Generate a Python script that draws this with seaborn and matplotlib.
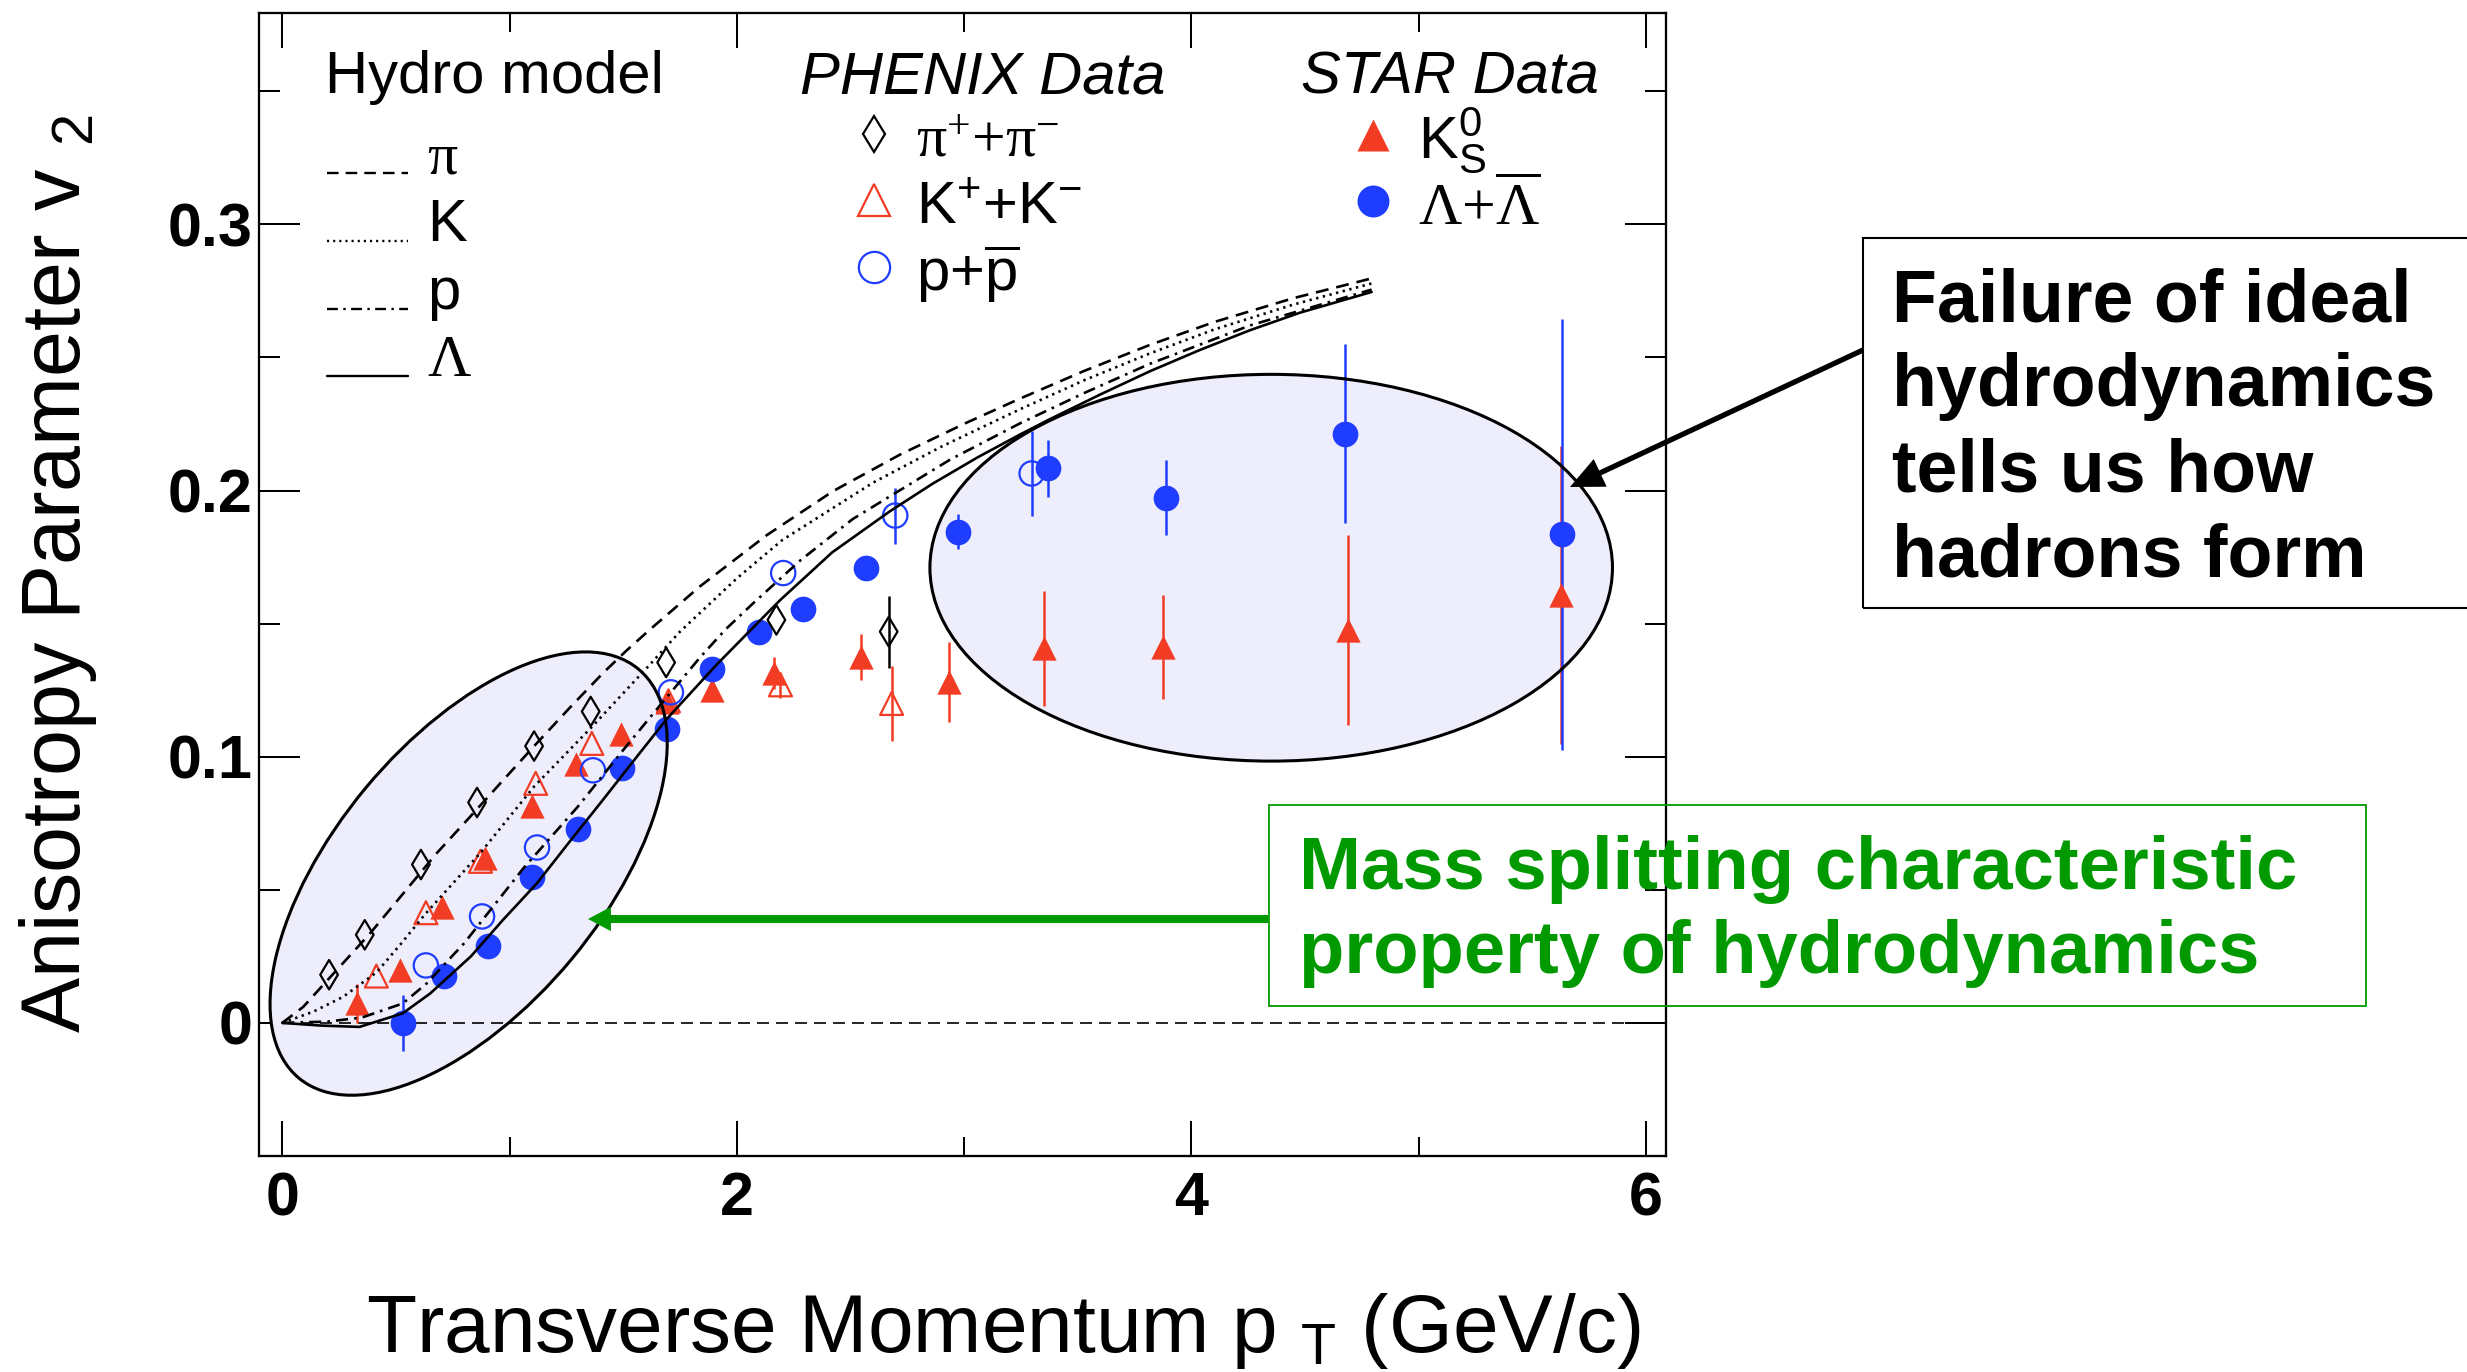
import numpy as np
import pandas as pd
import matplotlib
matplotlib.use("Agg")
import matplotlib.pyplot as plt
import seaborn as sns
from matplotlib.patches import Ellipse, Rectangle
from matplotlib.lines import Line2D
from matplotlib.legend_handler import HandlerLine2D
from matplotlib.transforms import ScaledTranslation

# ---------------- hydro model curves: v2(pT) ----------------
hydro_pi_pt = [0, 0.092, 0.239, 0.386, 0.532, 0.679, 0.826, 0.972, 1.119, 1.266, 1.412, 1.516,
               1.618, 1.838, 2.131, 2.424, 2.718, 3.011, 3.245, 3.53, 3.817, 4.1, 4.45, 4.793]
hydro_pi_v2 = [0, 0.006, 0.0198, 0.0336, 0.0486, 0.0637, 0.0774, 0.0912, 0.105, 0.1185, 0.1315,
               0.1400, 0.1478, 0.1640, 0.1832, 0.1998, 0.2135, 0.2255, 0.2345, 0.2450, 0.2547,
               0.2633, 0.2723, 0.2797]

hydro_k_pt = [0, 0.136, 0.268, 0.415, 0.52, 0.63, 0.87, 1.11, 1.36, 1.6, 1.75, 2.0, 2.2, 2.6,
              2.9, 3.245, 3.53, 3.817, 4.1, 4.45, 4.793]
hydro_k_v2 = [0, 0.0042, 0.0098, 0.019, 0.0295, 0.041, 0.0637, 0.089, 0.111, 0.133, 0.147, 0.167,
              0.1814, 0.2030, 0.2165, 0.2305, 0.2415, 0.2515, 0.2605, 0.2699, 0.2778]

hydro_p_pt = [0, 0.2, 0.35, 0.53, 0.635, 0.8, 1.06, 1.3, 1.5, 1.63, 1.84, 1.95, 2.07, 2.28, 2.51,
              2.94, 3.245, 3.53, 3.817, 4.257, 4.793]
hydro_p_v2 = [0, 0.0005, 0.002, 0.0073, 0.0148, 0.0299, 0.058, 0.0812, 0.1025, 0.1160, 0.1375,
              0.1478, 0.1575, 0.1738, 0.1893, 0.2117, 0.2252, 0.2367, 0.2476, 0.2620, 0.2755]

hydro_lam_pt = [0, 0.17, 0.34, 0.53, 0.65, 0.83, 0.97, 1.12, 1.27, 1.41, 1.56, 1.69, 1.91, 2.19,
                2.42, 2.67, 2.86, 3.06, 3.245, 3.377, 3.597, 3.817, 4.037, 4.257, 4.477, 4.793]
hydro_lam_v2 = [0, -0.001, -0.0015, 0.0036, 0.011, 0.025, 0.0386, 0.0524, 0.0687, 0.0837, 0.1,
                0.114, 0.1345, 0.1588, 0.1768, 0.1920, 0.2025, 0.2125, 0.2210, 0.2268, 0.2360,
                0.2448, 0.2528, 0.2602, 0.2668, 0.2746]

# ---------------- PHENIX data ----------------
phenix_pi_pt = [0.206, 0.363, 0.610, 0.857, 1.108, 1.357, 1.689, 2.174, 2.668]
phenix_pi_v2 = [0.0181, 0.0331, 0.0595, 0.0828, 0.104, 0.117, 0.1354, 0.1514, 0.147]
phenix_pi_err = [0, 0, 0, 0, 0, 0, 0, 0, 0.0135]

phenix_k_pt = [0.414, 0.632, 0.872, 1.115, 1.362, 1.699, 2.192, 2.681]
phenix_k_v2 = [0.0176, 0.0414, 0.0607, 0.090, 0.105, 0.121, 0.127, 0.120]
phenix_k_err = [0, 0, 0, 0, 0, 0, 0.005, 0.014]

phenix_p_pt = [0.632, 0.879, 1.121, 1.367, 1.710, 2.204, 2.697, 3.297]
phenix_p_v2 = [0.0216, 0.040, 0.0659, 0.0949, 0.1242, 0.169, 0.1906, 0.2064]
phenix_p_err = [0, 0, 0, 0, 0, 0, 0.0105, 0.016]

# ---------------- STAR data ----------------
star_k0s_pt = [0.329, 0.516, 0.704, 0.890, 1.097, 1.294, 1.492, 1.694, 1.889, 2.165, 2.547,
               2.933, 3.351, 3.874, 4.689, 5.624]
star_k0s_v2 = [0.0073, 0.0198, 0.0435, 0.0621, 0.0814, 0.0974, 0.1087, 0.1204, 0.125, 0.1316,
               0.1376, 0.1281, 0.1407, 0.1413, 0.1476, 0.1607]
star_k0s_err = [0.0075, 0, 0, 0, 0, 0, 0, 0, 0, 0.006, 0.0086, 0.015, 0.0216, 0.0195, 0.0358, 0.056]

star_lam_pt = [0.531, 0.711, 0.906, 1.099, 1.299, 1.496, 1.694, 1.891, 2.096, 2.289, 2.569,
               2.974, 3.369, 3.889, 4.677, 5.631]
star_lam_v2 = [0.0, 0.0176, 0.029, 0.0548, 0.0728, 0.0957, 0.1104, 0.1328, 0.147, 0.1556, 0.1708,
               0.1846, 0.2083, 0.1973, 0.2214, 0.1836]
star_lam_err = [0.0104, 0, 0, 0, 0, 0, 0, 0, 0, 0, 0, 0.0067, 0.0107, 0.014, 0.0337, 0.081]

# ---------------- tick labels ----------------
x_major = [0, 2, 4, 6]
x_major_labels = ["0", "2", "4", "6"]
x_minor = [1, 3, 5]
y_major = [0, 0.1, 0.2, 0.3]
y_major_labels = ["0", "0.1", "0.2", "0.3"]
y_minor = [-0.05, 0.05, 0.15, 0.25, 0.35]

hydro_labels = ["π", "K", "p", "Λ"]
phenix_labels = [r"π$^{+}$+π$^{-}$", r"K$^{+}$+K$^{-}$", r"p+$\overline{\mathregular{p}}$"]
star_labels = [r"K$^{0}_{S}$", r"Λ+$\overline{\Lambda}$"]

# ---------------- style ----------------
BLUE = "#1f3dff"
RED = "#f23c24"
GREEN = "#009a00"
LAVENDER = "#ededfc"

sns.set_theme(style="ticks", rc={
    "axes.edgecolor": "black", "xtick.color": "black", "ytick.color": "black",
    "text.color": "black", "axes.labelcolor": "black", "axes.linewidth": 1.65,
})
plt.rcParams["font.family"] = ["Liberation Sans", "DejaVu Sans"]
plt.rcParams["mathtext.default"] = "regular"

W, H, DPI = 2467, 1372, 100
fig = plt.figure(figsize=(W / DPI, H / DPI), dpi=DPI, facecolor="white")


def fx(px):
    return px / W


def fy(py):
    return 1 - py / H


AX_L, AX_R, AX_T, AX_B = 259.3, 1666.0, 13.0, 1156.0
ax = fig.add_axes([fx(AX_L), fy(AX_B), (AX_R - AX_L) / W, (AX_B - AX_T) / H])
ax.set_facecolor("white")
ax.set_xlim(-0.101, 6.088)
ax.set_ylim(-0.050, 0.3794)

# ---------------- highlighted regions ----------------
left_center = (0.820, 0.0561)
left_tr = fig.dpi_scale_trans + ScaledTranslation(left_center[0], left_center[1], ax.transData)
right_center = (4.351, 0.171)
for z, kw in ((1, dict(facecolor=LAVENDER, edgecolor="none")),
              (5, dict(facecolor="none", edgecolor="black", linewidth=2.2))):
    ax.add_patch(Ellipse((0, 0), 531.6 / DPI, 267.8 / DPI, angle=50.3,
                         transform=left_tr, zorder=z, **kw))
    ax.add_patch(Ellipse(right_center, 3.003, 0.1453, zorder=z, **kw))

# zero line
ax.axhline(0, xmin=0.101 / 6.189, xmax=1, color="black", lw=1.2, dashes=(7.2, 4.2), zorder=2)

# ---------------- hydro curves ----------------
CURVE_LW = 1.9
hydro_styles = [(0, (4.9, 3.0)), (0, (0.9, 1.7)), (0, (4.6, 2.3, 1.0, 2.3)), "-"]
hydro_sets = [(hydro_pi_pt, hydro_pi_v2), (hydro_k_pt, hydro_k_v2),
              (hydro_p_pt, hydro_p_v2), (hydro_lam_pt, hydro_lam_v2)]
for (xs, ys), ls in zip(hydro_sets, hydro_styles):
    sns.lineplot(x=xs, y=ys, ax=ax, color="black", lw=CURVE_LW, sort=False,
                 estimator=None, legend=False, zorder=4)
    ax.lines[-1].set_linestyle(ls)
    ax.lines[-1].set_solid_joinstyle("round")


# ---------------- data points ----------------
def draw_series(xs, ys, errs, marker, size, color, filled):
    err = np.asarray(errs, dtype=float)
    ax.errorbar(xs, ys, yerr=err, fmt="none", ecolor=color, elinewidth=1.8,
                capsize=0, zorder=2.5)
    sns.scatterplot(x=xs, y=ys, ax=ax, marker=marker, s=size ** 2, color=color,
                    linewidth=0, legend=False, zorder=3)
    coll = ax.collections[-1]
    if not filled:
        coll.set_facecolor("none")
        coll.set_edgecolor(color)
        coll.set_linewidth(1.6)


draw_series(star_k0s_pt, star_k0s_v2, star_k0s_err, "^", 17.5, RED, True)
draw_series(star_lam_pt, star_lam_v2, star_lam_err, "o", 18.5, BLUE, True)
draw_series(phenix_pi_pt, phenix_pi_v2, phenix_pi_err, "d", 15, "black", False)
draw_series(phenix_k_pt, phenix_k_v2, phenix_k_err, "^", 16.5, RED, False)
draw_series(phenix_p_pt, phenix_p_v2, phenix_p_err, "o", 17.5, BLUE, False)

# ---------------- axes, ticks ----------------
ax.set_xticks(x_major)
ax.set_xticklabels(x_major_labels, fontsize=44, fontweight="bold")
ax.set_xticks(x_minor, minor=True)
ax.set_yticks(y_major)
ax.set_yticklabels(y_major_labels, fontsize=44, fontweight="bold")
ax.set_yticks(y_minor, minor=True)
ax.tick_params(which="both", direction="in", top=True, right=True, width=1.45, color="black")
ax.tick_params(axis="x", which="major", length=25, pad=10.8)
ax.tick_params(axis="x", which="minor", length=13.7)
ax.tick_params(axis="y", which="major", length=29.5, pad=4.9)
ax.tick_params(axis="y", which="minor", length=15)
for s in ax.spines.values():
    s.set_visible(True)
    s.set_linewidth(1.65)
    s.set_color("black")

ax.set_xlabel(r"Transverse Momentum p $_{T}$ (GeV/c)", fontsize=59)
ax.xaxis.set_label_coords((1003 - AX_L) / (AX_R - AX_L), (AX_B - 1352) / (AX_B - AX_T))
ax.xaxis.label.set_va("baseline")
ax.set_ylabel(r"Anisotropy Parameter v $_{2}$", fontsize=59.5)
ax.yaxis.set_label_coords((80 - AX_L) / (AX_R - AX_L), (AX_B - 573.5) / (AX_B - AX_T))
ax.yaxis.label.set_va("baseline")


# ---------------- legends ----------------
class BaselineLine(HandlerLine2D):
    """Legend line drawn on the text baseline."""

    def create_artists(self, legend, orig_handle, xdescent, ydescent, width, height,
                       fontsize, trans):
        arts = super().create_artists(legend, orig_handle, xdescent, ydescent, width,
                                      height, fontsize, trans)
        for a in arts:
            a.set_ydata(np.zeros(len(a.get_xdata())))
        return arts


LEG_FS = 43
common = dict(loc="upper left", bbox_transform=fig.transFigure, frameon=False,
              fontsize=LEG_FS, handleheight=1.0, borderpad=0,
              borderaxespad=0, numpoints=1)

hydro_handles = [Line2D([], [], color="black", lw=1.7, linestyle=ls) for ls in hydro_styles]
leg_h = ax.legend(hydro_handles, hydro_labels, bbox_to_anchor=(fx(327), fy(126)),
                  handlelength=1.357, handletextpad=0.318, labelspacing=0.134,
                  handler_map={Line2D: BaselineLine()}, **common)
for t, lab in zip(leg_h.get_texts(), hydro_labels):
    if lab in ("π", "Λ"):
        t.set_fontfamily(["Liberation Serif", "DejaVu Serif"])
ax.add_artist(leg_h)

phenix_handles = [
    Line2D([], [], ls="none", marker="d", ms=18.5, mfc="none", mec="black", mew=1.6),
    Line2D([], [], ls="none", marker="^", ms=23, mfc="none", mec=RED, mew=1.6),
    Line2D([], [], ls="none", marker="o", ms=22.5, mfc="none", mec=BLUE, mew=1.6),
]
leg_p = ax.legend(phenix_handles, phenix_labels, bbox_to_anchor=(fx(850.3), fy(110.6)),
                  handlelength=0.8, handletextpad=0.3, labelspacing=0.1, **common)
leg_p.get_texts()[0].set_fontfamily(["Liberation Serif", "DejaVu Serif"])
ax.add_artist(leg_p)

star_handles = [
    Line2D([], [], ls="none", marker="^", ms=23.5, mfc=RED, mec="none"),
    Line2D([], [], ls="none", marker="o", ms=23, mfc=BLUE, mec="none"),
]
leg_s = ax.legend(star_handles, star_labels, bbox_to_anchor=(fx(1349), fy(106)),
                  handlelength=0.8, handletextpad=0.353, labelspacing=0.025, **common)
leg_s.get_texts()[1].set_fontfamily(["Liberation Serif", "DejaVu Serif"])

fig.text(fx(325), fy(93), "Hydro model", fontsize=LEG_FS, va="baseline", ha="left")
fig.text(fx(800), fy(93), "PHENIX Data", fontsize=LEG_FS, style="italic", va="baseline", ha="left")
fig.text(fx(1301), fy(93), "STAR Data", fontsize=LEG_FS, style="italic", va="baseline", ha="left")

# ---------------- annotations ----------------
fig.add_artist(Rectangle((fx(1863), fy(608)), fx(2520) - fx(1863), (608 - 238) / H,
                         transform=fig.transFigure, fill=False, edgecolor="black", lw=1.5))
fig.text(fx(1892), fy(576.7), "Failure of ideal\nhydrodynamics\ntells us how\nhadrons form",
         fontsize=53, fontweight="bold", va="baseline", ha="left", linespacing=1.3)

fig.add_artist(Rectangle((fx(1268.6), fy(1006)), (2365.7 - 1268.6) / W, (1006 - 805) / H,
                         transform=fig.transFigure, fill=False, edgecolor=GREEN, lw=1.3))
fig.text(fx(1299), fy(973.3), "Mass splitting characteristic\nproperty of hydrodynamics",
         fontsize=53.5, fontweight="bold", color=GREEN, va="baseline", ha="left",
         linespacing=1.28)

ax.annotate("", xy=(588, H - 919), xycoords="figure pixels",
            xytext=(1268, H - 919), textcoords="figure pixels", annotation_clip=False,
            arrowprops=dict(width=5.8, headwidth=17.5, headlength=16.5, facecolor=GREEN,
                            edgecolor=GREEN, lw=0, shrink=0), zorder=6)
ax.annotate("", xy=(1570, H - 487), xycoords="figure pixels",
            xytext=(1863, H - 350), textcoords="figure pixels", annotation_clip=False,
            arrowprops=dict(width=3.8, headwidth=22, headlength=24, facecolor="black",
                            edgecolor="black", lw=0, shrink=0), zorder=6)

fig.savefig("out.png", dpi=DPI, facecolor="white")
